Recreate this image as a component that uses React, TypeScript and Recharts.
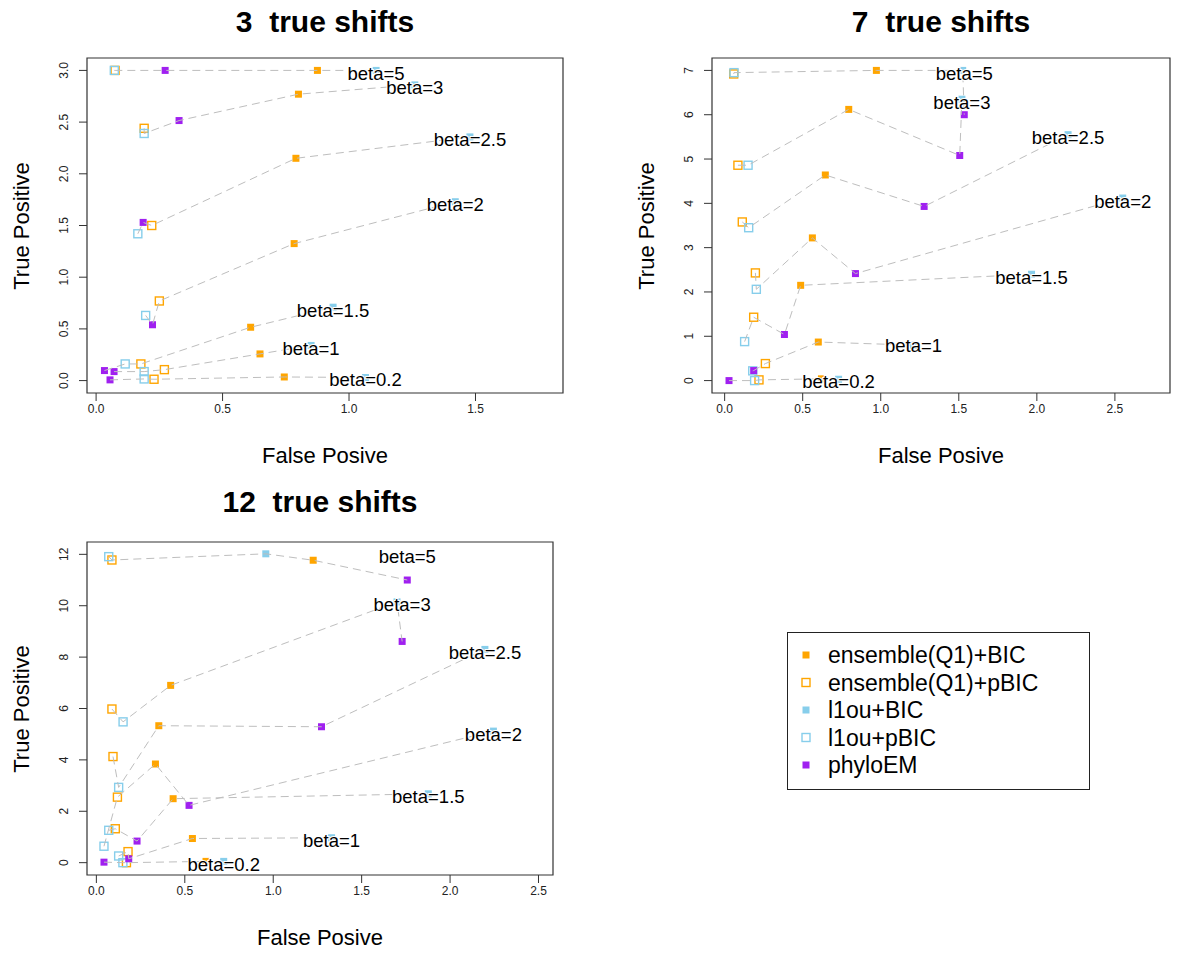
import React from 'react';
import { ScatterChart, Scatter, XAxis, YAxis, ReferenceArea } from 'recharts';

// [false positives, true positives] per beta, in the order of BETAS
type Pt = [number, number];

const BETAS = ['5', '3', '2.5', '2', '1.5', '1', '0.2'];

// 3 true shifts
const p1EnsBic: Pt[] = [[0.875, 3.0], [0.8, 2.77], [0.79, 2.15], [0.783, 1.325], [0.611, 0.516], [0.648, 0.258], [0.744, 0.035]];
const p1EnsPbic: Pt[] = [[0.075, 3.0], [0.19, 2.44], [0.22, 1.5], [0.25, 0.77], [0.177, 0.161], [0.27, 0.106], [0.229, 0.013]];
const p1L1Bic: Pt[] = [[1.107, 3.0], [1.26, 2.86], [1.478, 2.357], [1.42, 1.73], [0.937, 0.71], [0.85, 0.34], [1.065, 0.03]];
const p1L1Pbic: Pt[] = [[0.072, 3.0], [0.19, 2.39], [0.165, 1.42], [0.196, 0.63], [0.115, 0.161], [0.19, 0.087], [0.19, 0.016]];
const p1Em: Pt[] = [[0.273, 3.0], [0.328, 2.515], [0.186, 1.53], [0.223, 0.54], [0.033, 0.097], [0.071, 0.087], [0.055, 0.007]];

// 7 true shifts
const p2EnsBic: Pt[] = [[0.972, 7.0], [0.795, 6.12], [0.645, 4.64], [0.562, 3.22], [0.487, 2.15], [0.6, 0.87], [0.62, 0.04]];
const p2EnsPbic: Pt[] = [[0.058, 6.92], [0.085, 4.86], [0.113, 3.58], [0.197, 2.43], [0.186, 1.43], [0.261, 0.384], [0.22, 0.016]];
const p2L1Bic: Pt[] = [[1.525, 7.0], [1.52, 6.35], [2.2, 5.55], [2.55, 4.12], [1.966, 2.4], [1.21, 0.8], [0.73, 0.03]];
const p2L1Pbic: Pt[] = [[0.06, 6.95], [0.15, 4.86], [0.154, 3.45], [0.203, 2.06], [0.128, 0.88], [0.18, 0.22], [0.192, 0.0]];
const p2Em: Pt[] = [[1.535, 6.0], [1.506, 5.08], [1.278, 3.93], [0.838, 2.415], [0.383, 1.04], [0.186, 0.226], [0.028, 0.0]];

// 12 true shifts
const p3EnsBic: Pt[] = [[1.226, 11.77], [0.42, 6.9], [0.353, 5.33], [0.334, 3.84], [0.434, 2.49], [0.543, 0.94], [0.62, 0.05]];
const p3EnsPbic: Pt[] = [[0.088, 11.78], [0.088, 5.98], [0.094, 4.13], [0.119, 2.55], [0.107, 1.32], [0.179, 0.43], [0.17, 0.0]];
const p3L1Bic: Pt[] = [[0.958, 12.02], [1.7, 10.15], [2.197, 8.3], [2.245, 5.12], [1.877, 2.68], [1.33, 0.97], [0.72, 0.05]];
const p3L1Pbic: Pt[] = [[0.07, 11.91], [0.151, 5.48], [0.126, 2.93], [0.043, 0.64], [0.07, 1.26], [0.126, 0.26], [0.15, 0.0]];
const p3Em: Pt[] = [[1.758, 11.0], [1.729, 8.61], [1.273, 5.29], [0.524, 2.23], [0.23, 0.84], [0.183, 0.15], [0.043, 0.02]];

const METHODS = [
  { name: 'ensemble(Q1)+BIC', color: '#FFA500', open: false },
  { name: 'ensemble(Q1)+pBIC', color: '#FFA500', open: true },
  { name: 'l1ou+BIC', color: '#87CEEB', open: false },
  { name: 'l1ou+pBIC', color: '#87CEEB', open: true },
  { name: 'phyloEM', color: '#A020F0', open: false },
];

const FONT = '"Liberation Sans", Arial, Helvetica, sans-serif';

const PANELS = [
  {
    title: '3  true shifts',
    series: [p1EnsBic, p1EnsPbic, p1L1Bic, p1L1Pbic, p1Em],
    xDomain: [-0.036, 1.846], yDomain: [-0.12, 3.12],
    xTicks: [0, 0.5, 1, 1.5], yTicks: [0, 0.5, 1, 1.5, 2, 2.5, 3], yDigits: 1,
    left: 0, top: 0, width: 580, height: 480, mTop: 58, mRight: 17, mBottom: 7, xAxisH: 80, yAxisW: 87,
  },
  {
    title: '7  true shifts',
    series: [p2EnsBic, p2EnsPbic, p2L1Bic, p2L1Pbic, p2Em],
    xDomain: [-0.081, 2.853], yDomain: [-0.28, 7.28],
    xTicks: [0, 0.5, 1, 1.5, 2, 2.5], yTicks: [0, 1, 2, 3, 4, 5, 6, 7], yDigits: 0,
    left: 620, top: 0, width: 567, height: 480, mTop: 58, mRight: 17, mBottom: 7, xAxisH: 80, yAxisW: 92,
  },
  {
    title: '12  true shifts',
    series: [p3EnsBic, p3EnsPbic, p3L1Bic, p3L1Pbic, p3Em],
    xDomain: [-0.053, 2.582], yDomain: [-0.48, 12.48],
    xTicks: [0, 0.5, 1, 1.5, 2, 2.5], yTicks: [0, 2, 4, 6, 8, 10, 12], yDigits: 0,
    left: 0, top: 480, width: 570, height: 470, mTop: 62, mRight: 17, mBottom: 5, xAxisH: 70, yAxisW: 87,
  },
];

const Square = (props: any) => {
  const { cx, cy, color, open } = props;
  if (cx == null || cy == null) return <g />;
  return open ? (
    <rect x={cx - 4} y={cy - 4} width={8} height={8} fill="none" stroke={color} strokeWidth={1.4} />
  ) : (
    <rect x={cx - 3.5} y={cy - 3.5} width={7} height={7} fill={color} />
  );
};

const NoMark = () => <g />;

// thin white halo keeps the dashed paths from running through the text
const BetaLabel = (props: any) => (
  <text
    x={props.cx}
    y={props.cy + 3}
    textAnchor="middle"
    dominantBaseline="central"
    fontSize={18.5}
    fontFamily={FONT}
    fill="#000"
    stroke="#fff"
    strokeWidth={2}
    paintOrder="stroke"
  >
    {props.payload.label}
  </text>
);

const YTick = (props: any) => {
  const { x, y, payload, digits } = props;
  return (
    <text x={x} y={y} transform={`rotate(-90 ${x} ${y})`} textAnchor="middle" fontSize={12} fontFamily={FONT} fill="#222">
      {Number(payload.value).toFixed(digits)}
    </text>
  );
};

function Panel({ cfg }: { cfg: (typeof PANELS)[number] }) {
  const toRows = (pts: Pt[]) => pts.map(([fp, tp]) => ({ fp, tp }));

  // one dashed path per beta, joining the five methods left to right
  const groups = BETAS.map((_, i) =>
    cfg.series.map((s) => ({ fp: s[i][0], tp: s[i][1] })).sort((a, b) => a.fp - b.fp)
  );
  const labels = BETAS.map((b, i) => ({
    fp: Math.max(...groups[i].map((p) => p.fp)),
    tp: Math.max(...groups[i].map((p) => p.tp)),
    label: `beta=${b}`,
  }));

  const plotL = cfg.yAxisW;
  const plotR = cfg.width - cfg.mRight;
  const plotT = cfg.mTop;
  const plotB = cfg.height - cfg.mBottom - cfg.xAxisH;
  const midX = (plotL + plotR) / 2;
  const midY = (plotT + plotB) / 2;

  return (
    <div style={{ position: 'absolute', left: cfg.left, top: cfg.top, width: cfg.width, height: cfg.height }}>
      <ScatterChart
        width={cfg.width}
        height={cfg.height}
        margin={{ top: cfg.mTop, right: cfg.mRight, bottom: cfg.mBottom, left: 0 }}
      >
        <XAxis
          type="number"
          dataKey="fp"
          domain={cfg.xDomain}
          allowDataOverflow
          ticks={cfg.xTicks}
          tickFormatter={(v: number) => v.toFixed(1)}
          height={cfg.xAxisH}
          axisLine={false}
          tickLine={{ stroke: '#333' }}
          tickSize={8}
          tickMargin={3}
          tick={{ fontSize: 12, fill: '#222', fontFamily: FONT }}
          interval={0}
        />
        <YAxis
          type="number"
          dataKey="tp"
          domain={cfg.yDomain}
          allowDataOverflow
          ticks={cfg.yTicks}
          width={cfg.yAxisW}
          axisLine={false}
          tickLine={{ stroke: '#333' }}
          tickSize={8}
          tickMargin={11}
          tick={(p: any) => <YTick {...p} digits={cfg.yDigits} />}
          interval={0}
        />
        <ReferenceArea
          x1={cfg.xDomain[0]}
          x2={cfg.xDomain[1]}
          y1={cfg.yDomain[0]}
          y2={cfg.yDomain[1]}
          fill="none"
          stroke="#333"
          strokeWidth={1.2}
        />
        {cfg.series.map((pts, m) => (
          <Scatter
            key={METHODS[m].name}
            data={toRows(pts)}
            isAnimationActive={false}
            shape={(p: any) => <Square {...p} color={METHODS[m].color} open={METHODS[m].open} />}
          />
        ))}
        {groups.map((g, i) => (
          <Scatter
            key={`line-${BETAS[i]}`}
            data={g}
            isAnimationActive={false}
            line={{ stroke: '#BEBEBE', strokeWidth: 1, strokeDasharray: '8 5' }}
            lineType="joint"
            shape={NoMark}
          />
        ))}
        <Scatter data={labels} isAnimationActive={false} shape={BetaLabel} />
      </ScatterChart>

      <div style={{ position: 'absolute', left: midX, top: 22, transform: 'translate(-50%, -50%)', fontSize: 30, fontWeight: 'bold', fontFamily: FONT, whiteSpace: 'pre', color: '#000' }}>
        {cfg.title}
      </div>
      <div style={{ position: 'absolute', left: midX, top: plotB + 63, transform: 'translate(-50%, -50%)', fontSize: 22, fontFamily: FONT, whiteSpace: 'nowrap', color: '#000' }}>
        False Posive
      </div>
      <div style={{ position: 'absolute', left: plotL - 65, top: midY, transform: 'translate(-50%, -50%) rotate(-90deg)', fontSize: 22, fontFamily: FONT, whiteSpace: 'nowrap', color: '#000' }}>
        True Positive
      </div>
    </div>
  );
}

function MethodLegend() {
  return (
    <svg style={{ position: 'absolute', left: 787, top: 632 }} width={304} height={160}>
      <rect x={0.5} y={0.5} width={302} height={157} fill="#fff" stroke="#222" strokeWidth={1} />
      {METHODS.map((m, i) => {
        const cy = 23 + i * 27.5;
        return (
          <g key={m.name}>
            <Square cx={19} cy={cy} color={m.color} open={m.open} />
            <text x={41} y={cy} dominantBaseline="central" fontSize={23} fontFamily={FONT} fill="#000">
              {m.name}
            </text>
          </g>
        );
      })}
    </svg>
  );
}

export default function App() {
  return (
    <div style={{ position: 'absolute', left: 0, top: 0, width: 1187, height: 953, background: '#fff', overflow: 'hidden' }}>
      {PANELS.map((cfg) => (
        <Panel key={cfg.title} cfg={cfg} />
      ))}
      <MethodLegend />
    </div>
  );
}
